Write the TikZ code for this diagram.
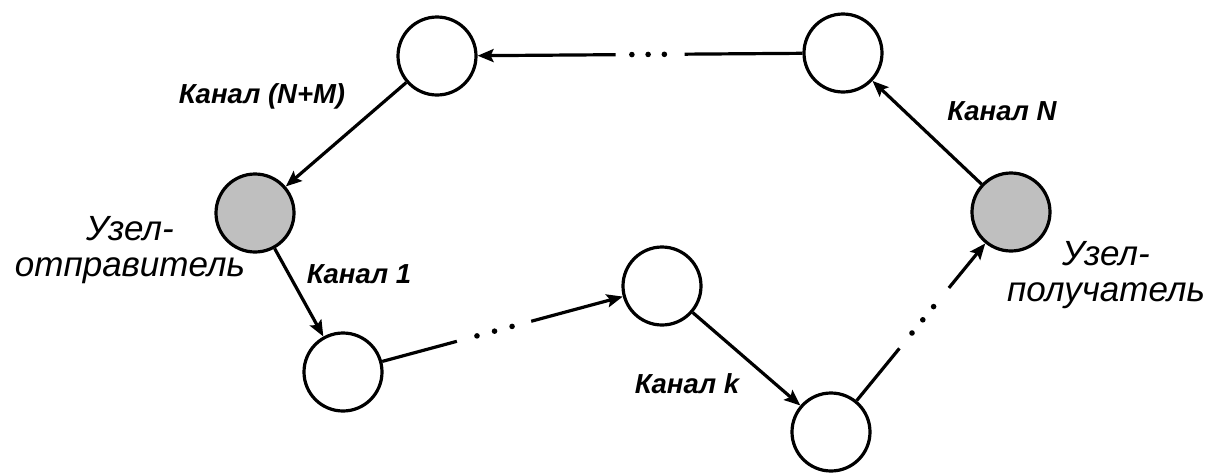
\documentclass[tikz,border=0pt]{standalone}
\usepackage{fontspec}
\setmainfont{Liberation Sans}
\usetikzlibrary{arrows.meta,calc}
\begin{document}
\begin{tikzpicture}[x=1pt,y=-1pt,
  netnode/.style={circle,draw=black,line width=3.2pt,minimum size=78pt,inner sep=0pt},
  endnode/.style={netnode,fill=black!25},
  link/.style={line width=3.2pt,-{Stealth[length=16pt,width=13pt,inset=3pt]}},
  plainlink/.style={line width=3.2pt},
  dotmark/.style={fill=black},
  chlabel/.style={font=\fontsize{27.5}{30}\selectfont\bfseries\itshape,inner sep=0pt},
  rolelabel/.style={font=\fontsize{35}{36}\selectfont\itshape,align=center,inner sep=0pt}]
\useasboundingbox (0,0) rectangle (1211,472);
\fill[white] (0,0) rectangle (1211,472);
% nodes
\node[netnode] (tl) at (437,56) {};
\node[netnode] (tr) at (843,53) {};
\node[endnode] (snd) at (255,213) {};
\node[endnode] (rcv) at (1011,212) {};
\node[netnode] (bl) at (343,372) {};
\node[netnode] (mid) at (662,286) {};
\node[netnode] (br) at (831,432) {};
% solid channels
\draw[link] (tl) -- (snd);
\draw[link] (snd) -- (bl);
\draw[link] (mid) -- (br);
\draw[link] (rcv) -- (tr);
% broken channel: top (tr -> tl)
\draw[plainlink] (tr) -- ($(tr)!0.39!(tl)$);
\foreach \t in {0.44,0.48,0.52} \fill[dotmark] ($(tr)!\t!(tl)$) circle (2.8pt);
\draw[link] ($(tr)!0.56!(tl)$) -- (tl);
% broken channel: bottom-left -> mid
\draw[plainlink] (bl) -- ($(bl)!0.357!(mid)$);
\foreach \t in {0.42,0.475,0.53} \fill[dotmark] ($(bl)!\t!(mid)$) circle (2.8pt);
\draw[link] ($(bl)!0.59!(mid)$) -- (mid);
% broken channel: br -> rcv
\draw[plainlink] (br) -- ($(br)!0.38!(rcv)$);
\foreach \t in {0.45,0.51,0.57} \fill[dotmark] ($(br)!\t!(rcv)$) circle (2.8pt);
\draw[link] ($(br)!0.655!(rcv)$) -- (rcv);
% labels
\node[chlabel] (lnm) at (262,96) {Канал (N+M)};
\node[chlabel] (l1) at (359,274) {Канал 1};
\node[chlabel] (lk) at (687,384) {Канал k};
\node[chlabel] (ln) at (1002,111) {Канал N};
\node[rolelabel] (lsnd) at (130,250) {Узел-\\отправитель};
\node[rolelabel] (lrcv) at (1106,275) {Узел-\\получатель};
\end{tikzpicture}
\end{document}
